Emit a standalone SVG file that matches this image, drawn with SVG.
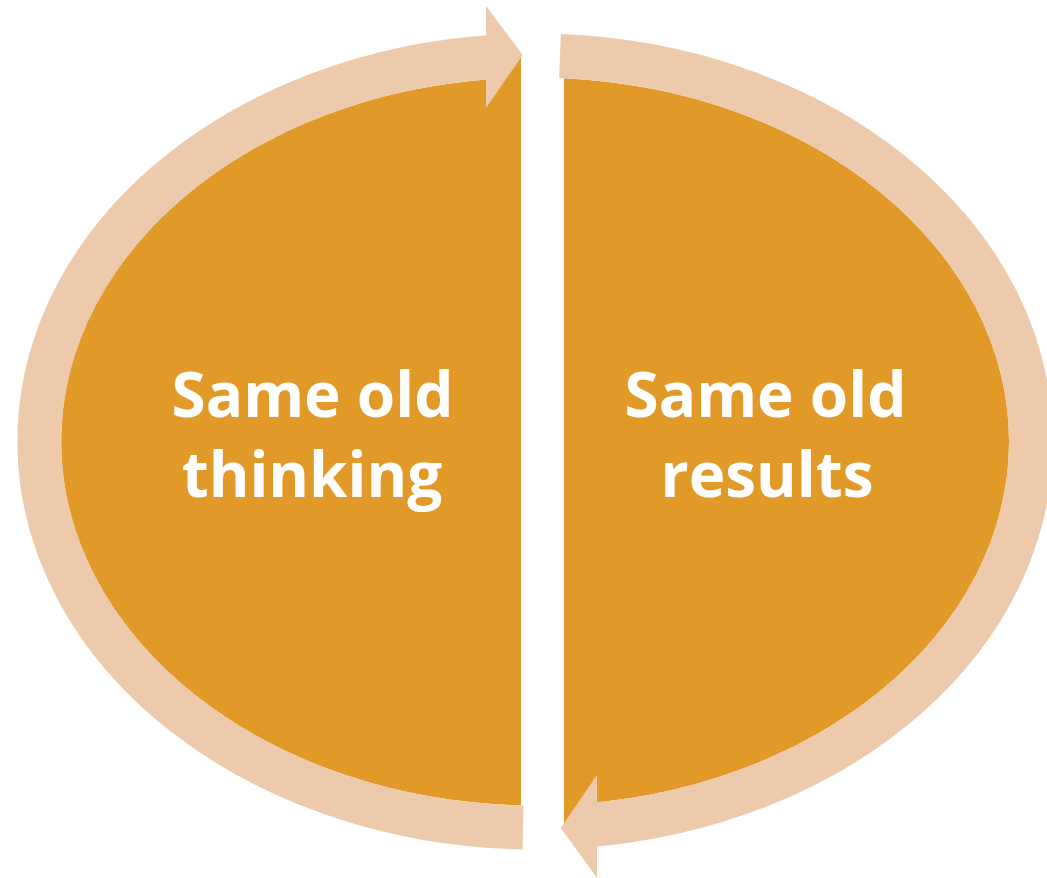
<svg xmlns="http://www.w3.org/2000/svg" width="1047" height="878" viewBox="0 0 1047 878">
  <style>
    .half { fill: #E19A27; }
    .band { fill: none; stroke: #EDCAAB; stroke-width: 44; stroke-linecap: butt; }
    .head { fill: #EDCAAB; }
    .label { font-family: "Open Sans", "Liberation Sans", sans-serif; font-weight: bold; font-size: 62px; fill: #FFFFFF; text-anchor: middle; }
  </style>
  <rect width="1047" height="878" fill="#FFFFFF"/>
  <g id="node-thinking">
    <path class="half" d="M 521 77.66 A 474 364 0 0 0 521 805.34 Z"/>
    <polygon class="half" points="486,56 521,56 521,100 486,100"/>
    <text class="label" x="312.5" y="417">Same old</text>
    <text class="label" x="312" y="497">thinking</text>
  </g>
  <g id="node-results">
    <path class="half" d="M 564 78.18 A 474 364 0 0 1 564 804.82 Z"/>
    <polygon class="half" points="564,790 597,790 597,826 564,826"/>
    <text class="label" x="765.5" y="417">Same old</text>
    <text class="label" x="767" y="497">results</text>
  </g>
  <g id="connectors">
    <g id="arrow-thinking-to-results">
      <path class="band" d="M 523 827.4 A 496 386 0 0 1 495 56.8"/>
      <polygon class="head" points="486,6 522.7,55 486,108"/>
    </g>
    <g id="arrow-results-to-thinking">
      <path class="band" d="M 560 56 A 496 386 0 0 1 588 825.3"/>
      <polygon class="head" points="597,775 560.7,828 597,878"/>
    </g>
  </g>
</svg>
